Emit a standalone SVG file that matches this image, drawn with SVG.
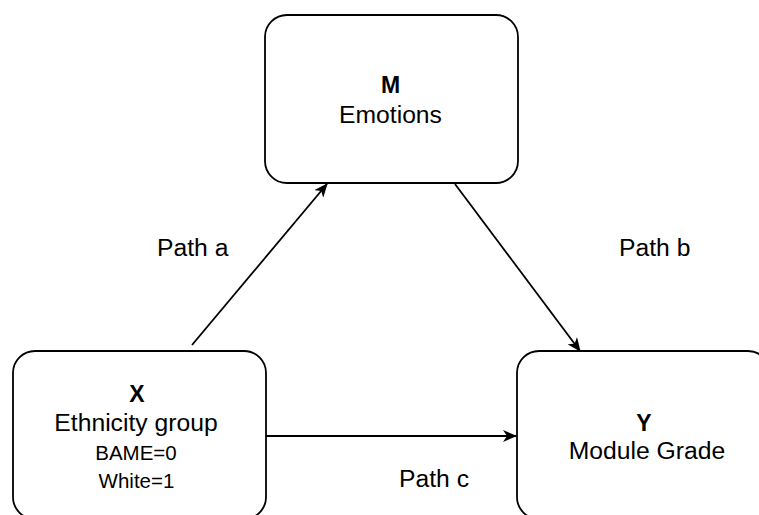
<svg xmlns="http://www.w3.org/2000/svg" width="759" height="515" viewBox="0 0 759 515">
  <style>
    .box { fill: #ffffff; stroke: #000000; stroke-width: 1.8; }
    .edge { fill: none; stroke: #000000; stroke-width: 1.8; }
    text { font-family: "Liberation Sans", Arial, sans-serif; fill: #000000; text-anchor: middle; }
    .title { font-size: 23px; font-weight: bold; }
    .label { font-size: 24.7px; }
    .small { font-size: 20.5px; }
    .path-label { font-size: 24.7px; text-anchor: start; }
  </style>
  <defs>
    <marker id="arrow" viewBox="0 0 14 12" refX="13" refY="6" markerWidth="14" markerHeight="12" markerUnits="userSpaceOnUse" orient="auto">
      <path d="M0,0 L14,6 L0,12 L4,6 Z" fill="#000000"/>
    </marker>
  </defs>
  <rect width="759" height="515" fill="#ffffff"/>

  <g id="connectors">
    <line class="edge" x1="192" y1="345" x2="327" y2="184" marker-end="url(#arrow)"/>
    <line class="edge" x1="455" y1="184" x2="580" y2="351" marker-end="url(#arrow)"/>
    <line class="edge" x1="266" y1="436" x2="516" y2="436" marker-end="url(#arrow)"/>
    <text class="path-label" x="157" y="256">Path a</text>
    <text class="path-label" x="619" y="256">Path b</text>
    <text class="path-label" x="399" y="487">Path c</text>
  </g>

  <g id="node-m">
    <rect class="box" x="265" y="15" width="253" height="168" rx="22" ry="22"/>
    <text class="title" x="390.5" y="93">M</text>
    <text class="label" x="390.5" y="123">Emotions</text>
  </g>

  <g id="node-x">
    <rect class="box" x="13" y="351" width="253" height="168" rx="22" ry="22"/>
    <text class="title" x="137" y="402">X</text>
    <text class="label" x="136" y="431">Ethnicity group</text>
    <text class="small" x="136" y="460">BAME=0</text>
    <text class="small" x="136.5" y="488">White=1</text>
  </g>

  <g id="node-y">
    <rect class="box" x="517" y="351" width="253" height="168" rx="22" ry="22"/>
    <text class="title" x="644" y="431">Y</text>
    <text class="label" x="647" y="459">Module Grade</text>
  </g>
</svg>
